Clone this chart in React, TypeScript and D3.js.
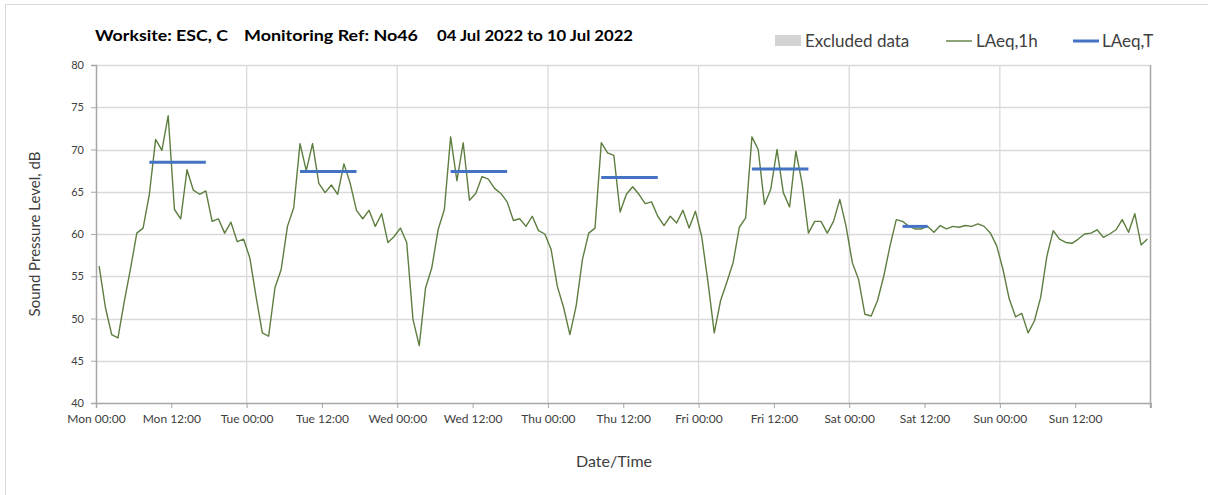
import React, { useEffect, useRef } from 'react';
import * as d3 from 'd3';

// hourly LAeq,1h values (dB), one array per day, hour 00..23
const mon = [56.2, 51.3, 48.1, 47.7, 52.0, 55.9, 60.1, 60.7, 64.7, 71.2, 69.9, 74.0, 62.9, 61.8, 67.6, 65.2, 64.7, 65.1, 61.5, 61.8, 60.1, 61.4, 59.1, 59.4];
const tue = [57.2, 52.6, 48.3, 47.9, 53.6, 55.8, 60.9, 63.1, 70.7, 67.5, 70.7, 66.0, 64.9, 65.8, 64.7, 68.3, 66.0, 62.8, 61.8, 62.8, 60.9, 62.4, 59.0, 59.7];
const wed = [60.7, 59.0, 49.9, 46.8, 53.6, 56.0, 60.5, 62.9, 71.5, 66.3, 70.8, 64.0, 64.8, 66.8, 66.5, 65.4, 64.8, 63.8, 61.6, 61.8, 60.9, 62.1, 60.4, 60.0];
const thu = [58.2, 53.8, 51.3, 48.1, 51.5, 57.0, 60.1, 60.7, 70.8, 69.6, 69.3, 62.6, 64.7, 65.6, 64.7, 63.6, 63.8, 62.1, 61.0, 62.1, 61.3, 62.8, 60.7, 62.7];
const fri = [59.7, 54.3, 48.3, 52.1, 54.3, 56.6, 60.8, 61.9, 71.5, 70.0, 63.5, 65.3, 70.0, 64.9, 63.2, 69.8, 66.0, 60.1, 61.5, 61.5, 60.1, 61.5, 64.1, 60.9];
const sat = [56.6, 54.6, 50.5, 50.3, 52.1, 55.0, 58.6, 61.7, 61.5, 60.9, 60.6, 60.6, 60.9, 60.2, 61.0, 60.6, 60.9, 60.8, 61.0, 60.9, 61.2, 60.9, 60.1, 58.6];
const sun = [55.8, 52.3, 50.2, 50.6, 48.3, 49.7, 52.5, 57.4, 60.4, 59.4, 59.0, 58.9, 59.4, 60.0, 60.1, 60.5, 59.6, 60.0, 60.5, 61.7, 60.2, 62.4, 58.7, 59.4];

// LAeq,T periods: day index, first hour, last hour, level
const periodDay = [0, 1, 2, 3, 4, 5];
const periodStart = [8, 8, 8, 8, 8, 8];
const periodEnd = [17, 17, 17, 17, 17, 12];
const periodLevel = [68.5, 67.4, 67.4, 66.7, 67.7, 60.9];

const dayNames = ['Mon', 'Tue', 'Wed', 'Thu', 'Fri', 'Sat', 'Sun'];
const yTicks = [40, 45, 50, 55, 60, 65, 70, 75, 80];
const titleParts = ['Worksite: ESC, C', 'Monitoring Ref: No46', '04 Jul 2022 to 10 Jul 2022'];

const W = 1208;
const H = 495;
const FONT = 'Lato, "Open Sans", sans-serif';

export default function App() {
  const svgRef = useRef<SVGSVGElement>(null);

  useEffect(() => {
    if (!svgRef.current) return;
    const svg = d3.select(svgRef.current);
    svg.selectAll('*').remove();

    const hourly = [mon, tue, wed, thu, fri, sat, sun].flat();
    const x = d3.scaleLinear().domain([0, 168]).range([96, 1150.5]);
    const y = d3.scaleLinear().domain([40, 80]).range([403, 65]);

    // outer chart border
    svg.append('rect')
      .attr('x', 5.5).attr('y', 4.5)
      .attr('width', 1210).attr('height', 500)
      .attr('fill', '#fff').attr('stroke', '#d9d9d9');

    // gridlines
    svg.append('g').selectAll('line.h')
      .data(yTicks.slice(1))
      .enter().append('line')
      .attr('x1', x(0)).attr('x2', x(168))
      .attr('y1', d => Math.round(y(d)) + 0.5).attr('y2', d => Math.round(y(d)) + 0.5)
      .attr('stroke', '#d9d9d9').attr('stroke-width', 1.3);

    svg.append('g').selectAll('line.v')
      .data(d3.range(24, 168, 24))
      .enter().append('line')
      .attr('x1', d => x(d)).attr('x2', d => x(d))
      .attr('y1', y(80)).attr('y2', y(40))
      .attr('stroke', '#d9d9d9').attr('stroke-width', 1.3);

    // axes
    const axisColor = '#a6a6a6';
    const yAxis = svg.append('g')
      .attr('transform', `translate(${x(0)},0)`)
      .call(d3.axisLeft(y).tickValues(yTicks).tickSize(5).tickPadding(7));
    yAxis.select('.domain').attr('stroke', axisColor).attr('stroke-width', 1.5);
    yAxis.selectAll('.tick line').attr('stroke', axisColor);
    yAxis.selectAll('.tick text')
      .attr('fill', '#404040').style('font-size', '11px').style('font-family', FONT);

    const xTicks = d3.range(0, 169, 12);
    const xAxis = svg.append('g')
      .attr('transform', `translate(0,${y(40)})`)
      .call(d3.axisBottom(x).tickValues(xTicks).tickSize(5).tickPadding(6)
        .tickFormat(d => {
          const h = +d;
          if (h >= 168) return '';
          return `${dayNames[Math.floor(h / 24)]} ${h % 24 === 0 ? '00' : '12'}:00`;
        }));
    xAxis.select('.domain').attr('stroke', axisColor).attr('stroke-width', 1.5);
    xAxis.selectAll('.tick line').attr('stroke', axisColor);
    xAxis.selectAll('.tick text')
      .attr('fill', '#404040').style('font-size', '12px').style('font-family', FONT);

    // right frame
    svg.append('line')
      .attr('x1', x(168)).attr('x2', x(168))
      .attr('y1', y(80)).attr('y2', y(40) + 5)
      .attr('stroke', axisColor).attr('stroke-width', 1.5);

    // LAeq,1h line
    const line = d3.line<number>()
      .x((_, i) => x(i + 0.5))
      .y(d => y(d));
    svg.append('path')
      .datum(hourly)
      .attr('fill', 'none')
      .attr('stroke', '#5e7e40')
      .attr('stroke-width', 1.4)
      .attr('stroke-linejoin', 'round')
      .attr('d', line);

    // LAeq,T segments
    svg.append('g').selectAll('line')
      .data(periodLevel)
      .enter().append('line')
      .attr('x1', (_, i) => x(periodDay[i] * 24 + periodStart[i] + 0.5))
      .attr('x2', (_, i) => x(periodDay[i] * 24 + periodEnd[i] + 0.5))
      .attr('y1', d => y(d)).attr('y2', d => y(d))
      .attr('stroke', '#4472c4').attr('stroke-width', 3);

    // title, three parts like the original spacing
    const titleX = [95, 244, 437];
    const titleLen = [133, 174, 196];
    svg.append('g').selectAll('text')
      .data(titleParts)
      .enter().append('text')
      .attr('x', (_, i) => titleX[i]).attr('y', 41)
      .attr('textLength', (_, i) => titleLen[i])
      .attr('lengthAdjust', 'spacingAndGlyphs')
      .attr('fill', '#000')
      .style('font-family', FONT).style('font-size', '16px').style('font-weight', 'bold')
      .text(d => d);

    // legend
    const lg = svg.append('g').style('font-family', FONT).style('font-size', '17px').attr('fill', '#404040');
    lg.append('rect').attr('x', 775).attr('y', 35).attr('width', 26).attr('height', 11).attr('fill', '#d3d3d3');
    lg.append('text').attr('x', 805).attr('y', 47).text('Excluded data');
    lg.append('line').attr('x1', 946).attr('x2', 972).attr('y1', 41).attr('y2', 41)
      .attr('stroke', '#5e7e40').attr('stroke-width', 1.4);
    lg.append('text').attr('x', 976).attr('y', 47).text('LAeq,1h');
    lg.append('line').attr('x1', 1073).attr('x2', 1099).attr('y1', 41).attr('y2', 41)
      .attr('stroke', '#4472c4').attr('stroke-width', 3);
    lg.append('text').attr('x', 1102).attr('y', 47).text('LAeq,T');

    // axis titles
    svg.append('text')
      .attr('transform', `translate(40,${(y(40) + y(80)) / 2}) rotate(-90)`)
      .attr('text-anchor', 'middle')
      .attr('fill', '#404040')
      .style('font-family', FONT).style('font-size', '15px')
      .text('Sound Pressure Level, dB');

    svg.append('text')
      .attr('x', 614).attr('y', 467)
      .attr('text-anchor', 'middle')
      .attr('fill', '#404040')
      .style('font-family', FONT).style('font-size', '16px')
      .text('Date/Time');
  }, []);

  return (
    <div style={{ position: 'fixed', left: 0, top: 0, width: W, height: H, background: '#fff' }}>
      <svg ref={svgRef} width={W} height={H} style={{ display: 'block' }} />
    </div>
  );
}
